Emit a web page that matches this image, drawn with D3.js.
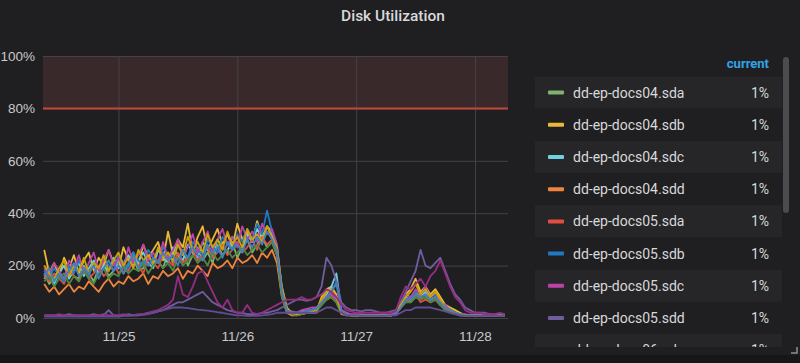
<!DOCTYPE html>
<html>
<head>
<meta charset="utf-8">
<script src="https://cdn.jsdelivr.net/npm/d3@7/dist/d3.min.js"></script>
<style>
body { margin: 0; background: #161719; overflow: hidden; }
svg { display: block; font-family: Roboto, "Noto Sans", sans-serif; }
</style>
</head>
<body>
<script>
const width = 800;
const height = 363;
const plot = {left: 43, right: 508, top: 56, bottom: 318};

const bgColor = "#1f1f21";
const gridColor = "#434346";
const textColor = "#d8d9da";
const axisTextColor = "#c8c9ca";

// hourly samples, first one at 11/24 09:00
const startTime = new Date(2019, 10, 24, 9, 0);
const domainStart = new Date(2019, 10, 24, 8, 45);
const domainEnd = new Date(2019, 10, 28, 6, 40);
const dayTicks = [new Date(2019, 10, 25), new Date(2019, 10, 26), new Date(2019, 10, 27), new Date(2019, 10, 28)];
const yTicks = [0, 20, 40, 60, 80, 100];
const threshold = 80;

const seriesNames = [
    "dd-ep-docs04.sda", "dd-ep-docs04.sdb", "dd-ep-docs04.sdc", "dd-ep-docs04.sdd",
    "dd-ep-docs05.sda", "dd-ep-docs05.sdb", "dd-ep-docs05.sdc", "dd-ep-docs05.sdd",
    "dd-ep-docs06.sda", "dd-ep-docs06.sdb", "dd-ep-docs06.sdc",
    "dd-ep-docs07.sdc", "dd-ep-docs07.sdd"
];
const seriesColors = [
    "#7EB26D", "#EAB839", "#6ED0E0", "#EF843C",
    "#E24D42", "#1F78C1", "#BA43A9", "#705DA0",
    "#508642", "#CCA300", "#447EBC",
    "#962D82", "#614D93"
];
const currentValues = ["1%", "1%", "1%", "1%", "1%", "1%", "1%", "1%", "1%", "1%", "1%", "1%", "1%"];

const docs04sda = [17,13,15,18,14,19,16,15,20,17,14,19,21,16,18,22,17,20,23,18,19,24,20,22,19,25,21,23,26,20,24,27,22,25,21,28,24,26,29,23,27,30,25,28,31,27,29,24,
    9,3,2,1.5,2,2.5,3,3,5,7,8,6,2,1.5,1,1,1,1,0.8,1,1,1,1,1.5,4,7,6,8,7,8,6,7,5,4,3,2,1.5,1,1,1,1,1,1,1,1,1];
const docs04sdb = [26,17,21,16,23,19,24,17,22,25,18,23,20,26,21,19,27,22,25,20,28,23,26,29,22,33,24,30,27,36,25,31,35,26,30,34,28,32,27,36,30,33,29,37,31,35,33,27,
    12,4,2,1.5,1.5,2,2,2.5,8,11,12,9,2,1.5,1,1,1,1,1,1,1,1,1,2,6,9,11,15,10,12,9,11,8,5,4,3,2,1,1,1,1,1,1,1,1,1];
const docs04sdc = [15,18,13,17,20,15,18,21,16,19,22,17,20,18,23,19,21,24,20,22,25,21,19,26,23,21,27,24,22,28,25,23,29,26,24,30,27,25,31,28,26,32,29,34,30,35,32,26,
    10,3,2,2,2.5,3,3,4,6,9,12,17,3,2,1,1,1,1,1,1,1,1,1,1.5,5,8,7,9,8,10,7,8,6,5,3,2,1.5,1,1,1,1,1,1,1,1,1];
const docs04sdd = [13,10,12,9,11,13,10,12,11,14,12,10,13,15,12,14,13,16,14,15,17,13,16,15,18,16,17,19,15,18,17,20,18,16,21,19,20,22,19,23,21,22,24,21,25,23,26,21,
    8,2,1,1,1.5,2,2,2,7,10,11,8,1.5,1,1,1,0.8,0.8,0.8,1,1,1,1,1.5,4,7,8,10,8,9,7,8,5,4,3,2,1,1,1,1,1,1,1,1,1,1];
const docs05sda = [16,14,17,15,13,18,16,14,19,15,17,20,16,18,21,17,19,18,22,20,17,23,21,19,24,22,20,25,21,23,26,22,24,27,23,25,28,24,26,29,25,27,30,26,31,28,30,25,
    9,3,2,1.5,2,2,2.5,3,5,7,9,7,2,1.5,1,1,1,1,1,1,1,1,1,1.5,4,6,7,9,6,7,6,7,5,3,2.5,2,1.5,1,1,1,1,1,1,1,1,1];
const docs05sdb = [18,15,19,16,14,20,17,22,18,16,21,19,23,20,18,24,21,19,25,22,20,26,23,21,27,24,22,28,25,23,29,26,24,30,27,25,31,28,26,32,29,34,30,36,32,41,33,28,
    11,3,2,2,2,3,3,3.5,6,8,10,14,3,1.5,1,1,1,1,1,1,1,1,1,1.5,5,7,8,10,9,11,8,9,6,4,3,2,1.5,1,1,1,1,1,1,1,1,1];
const docs05sdc = [19,16,21,18,15,22,19,24,17,21,25,18,22,26,20,23,19,27,21,24,28,22,25,21,29,23,26,30,24,27,32,25,29,33,26,30,34,28,31,27,35,30,33,29,36,32,34,28,
    10,3,2.5,2,3,3.5,4,4,6,8,9,7,3,2,1.5,1.5,1.5,1,1,1,1,1,1.5,2,6,9,8,11,9,12,8,10,6,5,3,2,1.5,1.5,1,1,1,1,1,1,1,1];
const docs05sdd = [1,1,1,1,1,1.5,1,1,1,1,1.5,1,1,3,1,
    1,1,1.5,1,1,1.5,2,2,2.5,3,4,5,
    6,6,7,8,9,10,8,6,5,4,3,2.5,2,
    2,1.5,1.5,1.5,2,2,2.5,3,
    4,5,6,7,7,6.5,7,8,
    12,23,20,14,6,
    4,3,3,2.5,3,3,2.5,2,2,2.5,3,
    6,10,14,18,26,20,19,21,23,18,13,9,7,
    4,3,2,2,2,1.5,1.5,1.5,1.5];
const docs06sda = [14,16,12,15,17,13,16,14,18,15,13,17,19,15,17,16,20,17,19,18,21,17,20,22,19,21,18,23,20,22,24,21,23,20,25,22,24,26,23,25,27,24,26,28,25,27,29,24,
    8,2.5,1.5,1,1.5,2,2,2.5,5,7,8,6,2,1,1,1,1,1,1,1,1,1,1,1.5,4,6,6,8,7,8,6,7,5,3,2,1.5,1,1,1,1,1,1,1,1,1,1];
const docs06sdb = [20,17,15,19,22,16,20,18,23,17,21,19,24,18,22,25,20,23,19,26,22,24,21,27,23,25,22,28,24,31,26,29,25,32,27,30,26,33,28,31,27,34,30,32,29,35,31,27,
    11,3.5,2,1.5,2,2.5,2.5,3,7,10,11,8,2,1.5,1,1,1,1,1,1,1,1,1,1.5,5,8,10,13,9,11,8,10,7,4,3,2,1.5,1,1,1,1,1,1,1,1,1];
const docs06sdc = [16,19,14,17,15,18,21,16,19,17,20,15,19,22,18,20,17,21,24,19,22,20,23,21,25,22,24,20,26,23,27,24,22,28,25,27,23,29,26,28,25,30,27,31,28,33,30,26,
    10,3,2,2,2,2.5,3,3.5,6,8,10,13,2.5,1.5,1,1,1,1,1,1,1,1,1,1.5,4,7,7,9,8,9,7,8,6,4,3,2,1.5,1,1,1,1,1,1,1,1,1];
const docs07sdc = [1,1,1,1.5,1,1,1,1,1,1,1,1,1.5,1,1,1,1.5,1,1,1.5,
    1.5,2,2.5,3,4,5,7,
    16,9,8,12,17,18,14,10,6,4,7,3,2,
    2,5,2,1.5,2,3,4,5,
    6,7,7,7,8,7,7,8,
    9,11,10,8,5,
    3,2.5,2,2,2,2,2,2,2,2,2.5,
    8,12,11,13,15,12,16,18,22,17,12,8,6,
    3,2,2,2,1.5,1.5,1.5,2,1.5];
const docs07sdd = [0.5,0.5,0.5,0.5,0.5,0.5,0.5,0.5,0.5,0.5,0.5,0.5,0.5,0.5,0.5,0.5,0.8,0.8,1,1,1.2,1.5,
    2,2.5,3,3.5,4,4,4,3.8,3.5,3.2,3,2.8,2.5,2.2,2,1.6,1.3,1,
    1,0.8,0.8,0.8,1,1.2,1.5,2,
    2,2,2,2,2,2,2,2,
    3,4,4,3,2,
    1,1,1,0.8,0.8,0.8,0.8,0.8,0.8,1,1,
    2,3,3,4,4,4,4,3.5,3,2.5,2,1.5,1,
    0.8,0.8,0.8,0.8,0.8,0.8,0.8,0.8,0.8];

const seriesValues = [docs04sda, docs04sdb, docs04sdc, docs04sdd, docs05sda, docs05sdb, docs05sdc, docs05sdd,
    docs06sda, docs06sdb, docs06sdc, docs07sdc, docs07sdd];

const series = seriesNames.map((name, k) => ({
    name: name,
    color: seriesColors[k],
    current: currentValues[k],
    points: seriesValues[k].map((v, i) => ({t: d3.timeHour.offset(startTime, i), v: v}))
}));

const svg = d3.select("body")
    .append("svg")
    .attr("width", width)
    .attr("height", height);

svg.append("rect").attr("width", width).attr("height", height).attr("fill", bgColor);
svg.append("rect").attr("y", 355).attr("width", width).attr("height", height - 355).attr("fill", "#161719");

svg.append("text")
    .attr("x", 393)
    .attr("y", 16)
    .attr("text-anchor", "middle")
    .attr("dominant-baseline", "central")
    .attr("fill", textColor)
    .style("font-size", "15.5px")
    .style("font-weight", 500)
    .text("Disk Utilization");

const x = d3.scaleTime().domain([domainStart, domainEnd]).range([plot.left, plot.right]);
const y = d3.scaleLinear().domain([0, 100]).range([plot.bottom, plot.top]);

// threshold zone
svg.append("rect")
    .attr("x", plot.left)
    .attr("y", y(100))
    .attr("width", plot.right - plot.left)
    .attr("height", y(threshold) - y(100))
    .attr("fill", "rgba(234,112,112,0.13)");

const yAxis = svg.append("g")
    .attr("transform", `translate(${plot.left},0)`)
    .call(d3.axisLeft(y).tickValues(yTicks).tickFormat(d => d + "%").tickSize(-(plot.right - plot.left)).tickPadding(8));
yAxis.select(".domain").remove();
yAxis.selectAll("line").attr("stroke", gridColor);
yAxis.selectAll("text").attr("fill", axisTextColor).style("font-size", "13.5px");

const xAxis = svg.append("g")
    .attr("transform", `translate(0,${plot.bottom})`)
    .call(d3.axisBottom(x).tickValues(dayTicks).tickFormat(d3.timeFormat("%m/%d")).tickSize(-(plot.bottom - plot.top)).tickPadding(13));
xAxis.select(".domain").remove();
xAxis.selectAll("line").attr("stroke", gridColor);
xAxis.selectAll("text").attr("fill", axisTextColor).style("font-size", "13.5px");

svg.append("line")
    .attr("x1", plot.left).attr("x2", plot.right)
    .attr("y1", y(threshold)).attr("y2", y(threshold))
    .attr("stroke", "#c4463b")
    .attr("stroke-width", 2);

svg.append("clipPath").attr("id", "plotClip")
    .append("rect")
    .attr("x", plot.left).attr("y", plot.top)
    .attr("width", plot.right - plot.left).attr("height", plot.bottom - plot.top + 2);

const line = d3.line()
    .x(d => x(d.t))
    .y(d => y(d.v));

svg.append("g")
    .attr("clip-path", "url(#plotClip)")
    .selectAll("path")
    .data(series)
    .join("path")
    .attr("d", d => line(d.points))
    .attr("fill", "none")
    .attr("stroke", d => d.color)
    .attr("stroke-width", 1.8)
    .attr("stroke-linejoin", "round");

// legend table, only the rows that fit before the scroll cut
const rowH = 32.2;
const rowTop = 76.5;
const legendBottom = 347;
const visibleRows = series.filter((d, i) => rowTop + i * rowH < legendBottom);

svg.append("text")
    .attr("x", 769)
    .attr("y", 63)
    .attr("text-anchor", "end")
    .attr("dominant-baseline", "central")
    .attr("fill", "#33a2e5")
    .style("font-size", "13px")
    .style("font-weight", 700)
    .text("current");

svg.append("clipPath").attr("id", "legendClip")
    .append("rect")
    .attr("x", 530).attr("y", rowTop)
    .attr("width", 260).attr("height", legendBottom - rowTop);

const rows = svg.append("g")
    .attr("clip-path", "url(#legendClip)")
    .selectAll("g")
    .data(visibleRows)
    .join("g")
    .attr("transform", (d, i) => `translate(0,${rowTop + i * rowH})`);

rows.append("rect")
    .attr("x", 535)
    .attr("width", 247)
    .attr("height", rowH)
    .attr("fill", (d, i) => i % 2 === 0 ? "#262629" : bgColor);

rows.append("rect")
    .attr("x", 548)
    .attr("y", rowH / 2 - 2)
    .attr("width", 16)
    .attr("height", 4)
    .attr("rx", 1)
    .attr("fill", d => d.color);

rows.append("text")
    .attr("x", 573)
    .attr("y", rowH / 2)
    .attr("dominant-baseline", "central")
    .attr("fill", textColor)
    .style("font-size", "14px")
    .text(d => d.name);

rows.append("text")
    .attr("x", 769)
    .attr("y", rowH / 2)
    .attr("text-anchor", "end")
    .attr("dominant-baseline", "central")
    .attr("fill", textColor)
    .style("font-size", "14px")
    .text(d => d.current);

// scrollbar and resize handle
svg.append("rect")
    .attr("x", 783).attr("y", 57)
    .attr("width", 6).attr("height", 156)
    .attr("rx", 3)
    .attr("fill", "#4b4b50");

svg.append("path")
    .attr("d", "M797,347 V353 H791")
    .attr("fill", "none")
    .attr("stroke", "#8e8e8e")
    .attr("stroke-width", 1.5);
</script>
</body>
</html>
